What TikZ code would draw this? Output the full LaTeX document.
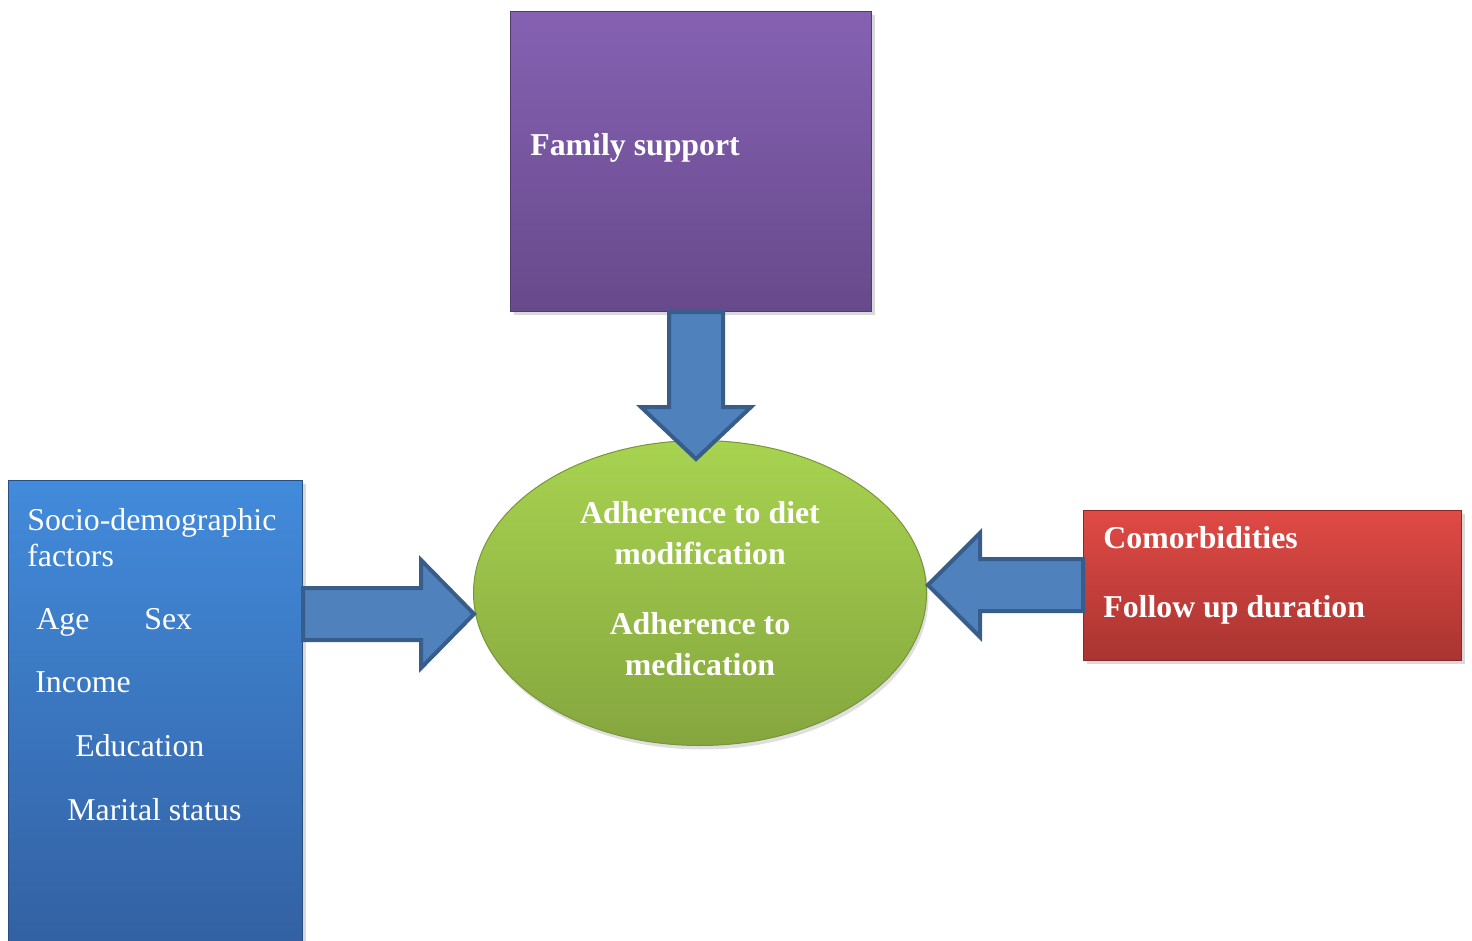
\documentclass[tikz,border=0pt]{standalone}
\usepackage{fontspec}
\setmainfont{Liberation Serif}
\usepackage{tikz}
\usetikzlibrary{positioning, shapes, calc, shadows}
\usepackage{xcolor}

\definecolor{purpleTop}{HTML}{8661B3}
\definecolor{purpleBot}{HTML}{674A8B}
\definecolor{greenTop}{HTML}{A8D350}
\definecolor{greenBot}{HTML}{85A63E}
\definecolor{blueTop}{HTML}{428BDB}
\definecolor{blueBot}{HTML}{3361A3}
\definecolor{redTop}{HTML}{E04A45}
\definecolor{redBot}{HTML}{A93431}
\definecolor{arrowFill}{HTML}{4F81BD}
\definecolor{arrowLine}{HTML}{385D8A}

\begin{document}
\begin{tikzpicture}[x=0.5pt, y=-0.5pt,
  box/.style={rectangle, line width=0.6pt, anchor=north west,
    drop shadow={opacity=0.3, shadow xshift=1.5pt, shadow yshift=-1.5pt}},
  txt/.style={text=white, anchor=base west, inner sep=0pt, font=\fontsize{15.9pt}{19pt}\selectfont},
  bold/.style={txt, font=\fontsize{15.9pt}{19pt}\selectfont\bfseries},
  fat/.style={fill=arrowFill, draw=arrowLine, line width=2pt, line join=miter}]
\useasboundingbox (0,0) rectangle (1472,941);

% boxes
\node[box, top color=purpleTop, bottom color=purpleBot, draw=purpleBot!80!black, minimum width=180.5pt, minimum height=150pt] (fam) at (510,11) {};
\node[box, top color=blueTop, bottom color=blueBot, draw=blueBot!80!black, minimum width=147pt, minimum height=230.5pt] (socio) at (8,480) {};
\node[box, top color=redTop, bottom color=redBot, draw=redBot!80!black, minimum width=189pt, minimum height=75pt] (comorb) at (1083,510) {};
\node[ellipse, top color=greenTop, bottom color=greenBot, draw=greenBot!90!black, line width=0.5pt,
  minimum width=226.5pt, minimum height=152.5pt,
  drop shadow={opacity=0.25, shadow xshift=1pt, shadow yshift=-2pt}] (core) at (700,593) {};
\node[align=center, text=white, font=\fontsize{15.9pt}{20.5pt}\selectfont\bfseries] (coretxt)
  at ($(core)+(0,-4)$) {Adherence to diet\\modification\\[14.5pt]Adherence to\\medication};

% labels
\node[bold] (famtxt) at (530,156) {Family support};
\node[txt] (soc) at (27,530) {Socio-demographic};
\node[txt] (fac) at (27,566) {factors};
\node[txt] (age) at (36,629) {Age};
\node[txt] (sex) at (144,629) {Sex};
\node[txt] (inc) at (35,692) {Income};
\node[txt] (edu) at (75,756) {Education};
\node[txt] (mar) at (67,820) {Marital status};
\node[bold] (como) at (1103,548) {Comorbidities};
\node[bold] (foll) at (1103,617) {Follow up duration};

% block arrows
\coordinate (dtip) at ($(core.north)+(-4,19)$);
\coordinate (dtop) at (dtip |- fam.south);
\draw[fat] ($(dtop)+(-27,0)$) -- ($(dtip)+(-27,-52)$) -- ($(dtip)+(-55,-52)$) -- (dtip)
  -- ($(dtip)+(55,-52)$) -- ($(dtip)+(27,-52)$) -- ($(dtop)+(27,0)$) -- cycle;

\coordinate (ltip) at ($(core.west)+(1,21)$);
\coordinate (lstart) at (socio.east |- ltip);
\draw[fat] ($(lstart)+(0,-26)$) -- ($(ltip)+(-53,-26)$) -- ($(ltip)+(-53,-54)$) -- (ltip)
  -- ($(ltip)+(-53,54)$) -- ($(ltip)+(-53,26)$) -- ($(lstart)+(0,26)$) -- cycle;

\coordinate (rtip) at ($(core.east)+(1,-8)$);
\coordinate (rstart) at (comorb.west |- rtip);
\draw[fat] ($(rstart)+(0,-26)$) -- ($(rtip)+(52,-26)$) -- ($(rtip)+(52,-52)$) -- (rtip)
  -- ($(rtip)+(52,52)$) -- ($(rtip)+(52,26)$) -- ($(rstart)+(0,26)$) -- cycle;
\end{tikzpicture}
\end{document}
